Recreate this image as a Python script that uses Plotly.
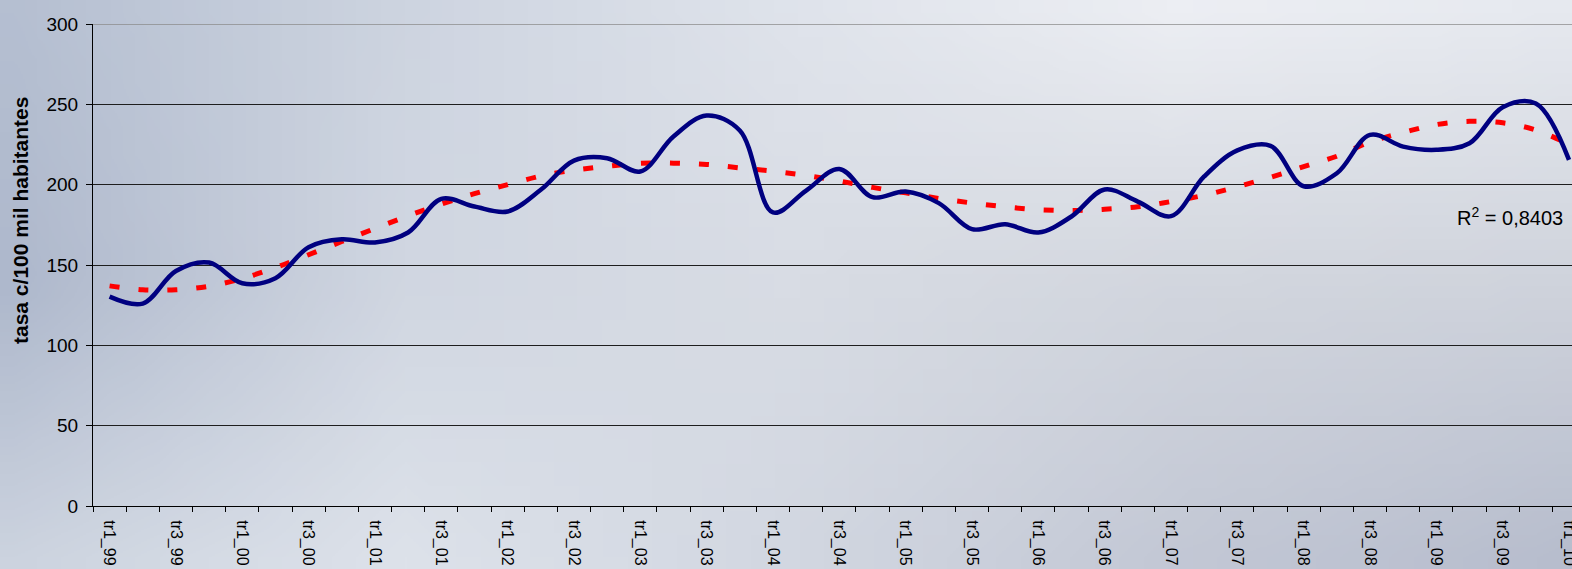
import base64
import struct
import zlib

import plotly.graph_objects as go

# quarters tr1_99 .. tr1_10
years = ["99", "00", "01", "02", "03", "04", "05", "06", "07", "08", "09", "10"]
quarters = [f"tr{q}_{y}" for y in years for q in (1, 2, 3, 4)][:45]

# tasa c/100 mil habitantes
tasa = [130.3, 126.0, 146.3, 151.5, 138.6, 141.8, 161.1, 166.0, 164.0, 170.2,
        191.2, 186.4, 183.3, 196.8, 215.0, 216.5, 208.2, 230.0, 243.0, 233.7,
        182.7, 196.3, 209.8, 192.2, 195.7, 188.5, 172.3, 175.4, 170.2, 180.2,
        197.0, 189.5, 180.4, 205.1, 221.3, 224.2, 199.0, 207.1, 231.0, 223.7,
        221.7, 225.8, 248.2, 250.5, 215.4]

# polynomial trend line as drawn on the chart
tendencia = [137.0, 134.6, 134.6, 136.8, 141.6, 148.4, 156.4, 164.6, 172.7, 180.6,
             187.9, 194.4, 200.0, 205.4, 209.0, 211.4, 213.3, 213.4, 212.6, 210.4,
             208.4, 205.7, 202.3, 198.3, 194.9, 191.4, 188.6, 186.2, 184.4, 183.9,
             184.7, 186.2, 189.5, 193.4, 198.7, 204.6, 211.2, 217.7, 226.6, 232.5,
             237.4, 239.4, 238.5, 234.0, 225.0]

r2_text = "R<sup>2</sup> = 0,8403"

W, H = 1572, 569
L, R, T, B = 93, 0, 24, 63
PW, PH = W - L - R, H - T - B


def sky_png():
    # soft grey-blue background, bilinear between a few anchor colours
    anchors = [
        ["#b5bfd1", "#cdd4e0", "#dfe3eb", "#eceef3", "#e6e9ef"],
        ["#aeb8cc", "#d0d6e1", "#d8dce4", "#d2d6de", "#cfd3dc"],
        ["#ccd3df", "#dde2ea", "#d2d7e1", "#c3c8d5", "#b7bdcd"],
    ]
    rgb = [[tuple(int(c[i:i + 2], 16) for i in (1, 3, 5)) for c in row] for row in anchors]
    w, h = 64, 24
    rows = []
    for j in range(h):
        fy = j / (h - 1) * (len(rgb) - 1)
        j0 = min(int(fy), len(rgb) - 2)
        ty = fy - j0
        row = bytearray([0])
        for i in range(w):
            fx = i / (w - 1) * (len(rgb[0]) - 1)
            i0 = min(int(fx), len(rgb[0]) - 2)
            tx = fx - i0
            for k in range(3):
                a = rgb[j0][i0][k] * (1 - tx) + rgb[j0][i0 + 1][k] * tx
                b = rgb[j0 + 1][i0][k] * (1 - tx) + rgb[j0 + 1][i0 + 1][k] * tx
                row.append(int(round(a * (1 - ty) + b * ty)))
        rows.append(bytes(row))

    def chunk(tag, data):
        return (struct.pack(">I", len(data)) + tag + data
                + struct.pack(">I", zlib.crc32(tag + data) & 0xffffffff))

    png = (b"\x89PNG\r\n\x1a\n"
           + chunk(b"IHDR", struct.pack(">IIBBBBB", w, h, 8, 2, 0, 0, 0))
           + chunk(b"IDAT", zlib.compress(b"".join(rows)))
           + chunk(b"IEND", b""))
    return "data:image/png;base64," + base64.b64encode(png).decode()


x = list(range(len(quarters)))

fig = go.Figure()

fig.add_trace(go.Scatter(
    x=x, y=tendencia,
    mode="lines",
    line=dict(color="#ff0000", width=5, dash="10px,19px", shape="spline", smoothing=1.0),
    hoverinfo="skip",
))

fig.add_trace(go.Scatter(
    x=x, y=tasa,
    mode="lines",
    line=dict(color="#000080", width=4.5, shape="spline", smoothing=1.0),
    hovertemplate="%{text}: %{y:.1f}<extra></extra>",
    text=quarters,
))

fig.update_layout(
    width=W, height=H,
    margin=dict(l=L, r=R, t=T, b=B),
    paper_bgcolor="#d0d6e0",
    plot_bgcolor="rgba(0,0,0,0)",
    showlegend=False,
    font=dict(family="Liberation Sans, Arial, sans-serif", color="black"),
    images=[dict(
        source=sky_png(), xref="paper", yref="paper",
        x=-L / PW, y=1 + T / PH, sizex=W / PW, sizey=H / PH,
        xanchor="left", yanchor="top", sizing="stretch", layer="below",
    )],
    xaxis=dict(
        range=[-0.5, 44.09],
        tickmode="array",
        tickvals=x[:-1:2],
        ticktext=quarters[:-1:2],
        tickangle=90,
        ticks="",
        ticklabelstandoff=10,
        tickfont=dict(size=16),
        showgrid=False,
        zeroline=False,
        showline=True, linecolor="black", linewidth=1,
        minor=dict(tick0=-0.5, dtick=1, ticks="outside", ticklen=5,
                   tickcolor="black", tickwidth=1, showgrid=False),
    ),
    yaxis=dict(
        range=[0, 300],
        dtick=50,
        ticks="outside", ticklen=6, tickcolor="black",
        ticklabelstandoff=4,
        tickfont=dict(size=19),
        showgrid=True, gridcolor="#1e1e1e", gridwidth=1,
        zeroline=False,
        showline=True, linecolor="black", linewidth=1,
    ),
    shapes=[dict(type="line", xref="paper", yref="y", x0=0, x1=1, y0=300, y1=300,
                 line=dict(color="#8c8c8c", width=1.5))],
    annotations=[
        dict(text="<b>tasa c/100 mil habitantes</b>", textangle=-90,
             xref="paper", yref="paper", x=(20 - L) / PW, y=(H - B - 221) / PH,
             xanchor="center", yanchor="middle", showarrow=False,
             font=dict(size=21)),
        dict(text=r2_text, xref="paper", yref="paper",
             x=(1565 - L) / PW, y=(H - B - 216) / PH,
             xanchor="right", yanchor="middle", showarrow=False,
             font=dict(size=20)),
        # last quarter label sits on the right edge, partly outside the page
        dict(text=quarters[-1], textangle=90, xref="x", yref="paper",
             x=x[-1], y=-12 / PH, xanchor="center", yanchor="top",
             showarrow=False, font=dict(size=16)),
    ],
)

fig.write_html(
    "out.html",
    config={"displayModeBar": False},
    post_script="document.body.style.margin='0';document.body.style.overflow='hidden';",
)
